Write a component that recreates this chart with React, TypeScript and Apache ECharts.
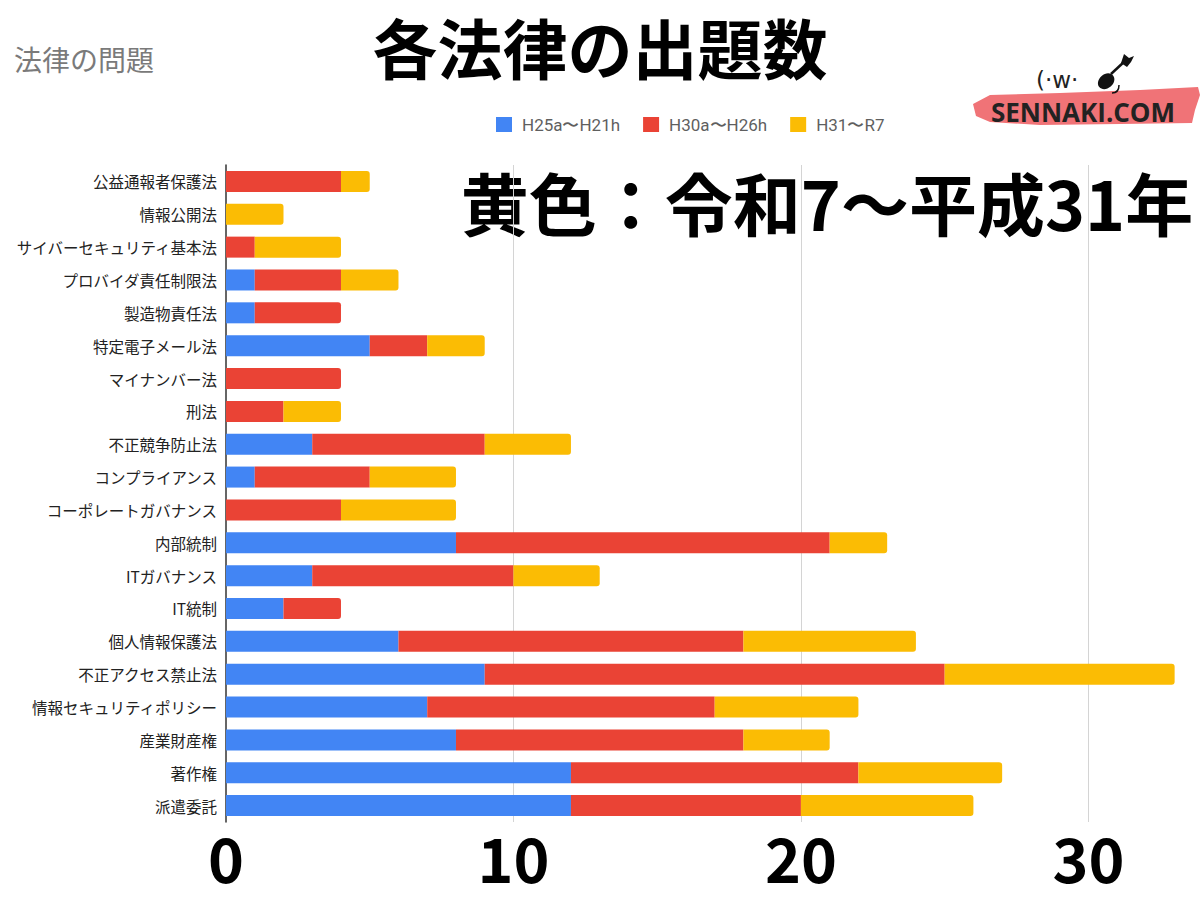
import React, { useEffect, useRef } from "react";
import * as echarts from "echarts";

const categories = [
  "公益通報者保護法",
  "情報公開法",
  "サイバーセキュリティ基本法",
  "プロバイダ責任制限法",
  "製造物責任法",
  "特定電子メール法",
  "マイナンバー法",
  "刑法",
  "不正競争防止法",
  "コンプライアンス",
  "コーポレートガバナンス",
  "内部統制",
  "ITガバナンス",
  "IT統制",
  "個人情報保護法",
  "不正アクセス禁止法",
  "情報セキュリティポリシー",
  "産業財産権",
  "著作権",
  "派遣委託",
];
const seriesNames = ["H25a〜H21h", "H30a〜H26h", "H31〜R7"];
const h25toH21 = [0, 0, 0, 1, 1, 5, 0, 0, 3, 1, 0, 8, 3, 2, 6, 9, 7, 8, 12, 12];
const h30toH26 = [4, 0, 1, 3, 3, 2, 4, 2, 6, 4, 4, 13, 7, 2, 12, 16, 10, 10, 10, 8];
const h31toR7 = [1, 2, 3, 2, 0, 2, 0, 2, 3, 3, 4, 2, 3, 0, 6, 8, 5, 3, 5, 6];
const xTickLabels = ["0", "10", "20", "30"];

const seriesColors = ["#4285F4", "#EA4335", "#FBBC04"];
const JP = '"Noto Sans CJK JP", "Noto Sans", sans-serif';

export default function App() {
  const ref = useRef<HTMLDivElement>(null);

  useEffect(() => {
    if (!ref.current) return;
    const chart = echarts.init(ref.current, undefined, { renderer: "svg" });
    const all = [h25toH21, h30toH26, h31toR7];
    const lastIdx = categories.map((_, i) => {
      let last = -1;
      all.forEach((arr, s) => {
        if (arr[i] > 0) last = s;
      });
      return last;
    });

    const series = all.map((arr, s) => ({
      name: seriesNames[s],
      type: "bar",
      stack: "total",
      barWidth: 21,
      itemStyle: { color: seriesColors[s] },
      data: arr.map((v, i) => ({
        value: v,
        itemStyle: lastIdx[i] === s ? { borderRadius: [0, 3, 3, 0] } : undefined,
      })),
    }));

    chart.setOption({
      animation: false,
      backgroundColor: "#ffffff",
      title: {
        text: "各法律の出題数",
        left: "center",
        top: 8,
        textStyle: { fontFamily: JP, fontSize: 65, fontWeight: "bold", color: "#000" },
      },
      legend: {
        left: 491,
        top: 111,
        icon: "rect",
        itemWidth: 16,
        itemHeight: 15,
        itemGap: 23,
        textStyle: {
          fontFamily: "Roboto, Arial, sans-serif",
          fontSize: 17,
          color: "#5f5f5f",
          padding: [0, 0, 0, 5],
        },
        data: seriesNames,
      },
      grid: { left: 226, top: 165, height: 657, width: 963, containLabel: false },
      xAxis: {
        type: "value",
        min: 0,
        max: 33.5,
        interval: 10,
        axisLine: { show: false },
        axisTick: { show: false },
        splitLine: { show: true, showMinLine: false, showMaxLine: false, lineStyle: { color: "#d4d4d4", width: 1 } },
        axisLabel: {
          showMaxLabel: false,
          margin: 4,
          fontFamily: JP,
          fontSize: 61,
          fontWeight: "bold",
          color: "#000",
          formatter: (v: number) => {
            const idx = Math.round(v / 10);
            return Math.abs(v - idx * 10) < 1e-6 && idx < xTickLabels.length ? xTickLabels[idx] : "";
          },
        },
      },
      yAxis: {
        type: "category",
        inverse: true,
        data: categories,
        axisLine: { show: true, lineStyle: { color: "#333", width: 1.5 } },
        axisTick: { show: false },
        axisLabel: { fontFamily: JP, fontSize: 15.5, color: "#222", margin: 9 },
      },
      graphic: [
        {
          type: "text",
          left: 14,
          top: 45,
          style: { text: "法律の問題", font: `28px ${JP}`, fill: "#7a7a7a" },
        },
        {
          type: "text",
          x: 827,
          y: 201,
          style: {
            text: "黄色：令和7〜平成31年",
            font: `bold 68px ${JP}`,
            fill: "#000",
            align: "center",
            verticalAlign: "middle",
          },
        },
        {
          type: "polygon",
          shape: {
            points: [
              [973, 104],
              [990, 95],
              [1060, 93],
              [1140, 90],
              [1198, 87],
              [1200, 95],
              [1195, 110],
              [1192, 123],
              [1120, 124],
              [1040, 125],
              [990, 122],
              [976, 116],
            ],
          },
          style: { fill: "#F07377" },
        },
        {
          type: "text",
          x: 1083,
          y: 112,
          style: {
            text: "SENNAKI.COM",
            font: 'bold 26px "Open Sans", sans-serif',
            fill: "#222",
            align: "center",
            verticalAlign: "middle",
          },
        },
        {
          type: "text",
          x: 1036,
          y: 80,
          style: {
            text: "(·w·",
            font: '23px "DejaVu Sans", sans-serif',
            fill: "#222",
            verticalAlign: "middle",
          },
        },
        {
          type: "ellipse",
          shape: { cx: 1106, cy: 81, rx: 9, ry: 7 },
          rotation: 0.7,
          originX: 1106,
          originY: 81,
          style: { fill: "#111" },
        },
        {
          type: "line",
          shape: { x1: 1111, y1: 74, x2: 1125, y2: 61 },
          style: { stroke: "#111", lineWidth: 2.5 },
        },
        {
          type: "polygon",
          shape: { points: [[1121, 63], [1124, 54], [1129, 58], [1134, 56], [1131, 62], [1127, 67]] },
          style: { fill: "#111" },
        },
        {
          type: "bezierCurve",
          shape: { x1: 1112, y1: 93, x2: 1119, y2: 85, cpx1: 1119, cpy1: 93 },
          style: { stroke: "#111", lineWidth: 1.5, fill: "none" },
        },
      ],
      series,
    });
    return () => chart.dispose();
  }, []);

  return (
    <div
      ref={ref}
      style={{ position: "absolute", left: 0, top: 0, width: 1200, height: 900 }}
    />
  );
}
